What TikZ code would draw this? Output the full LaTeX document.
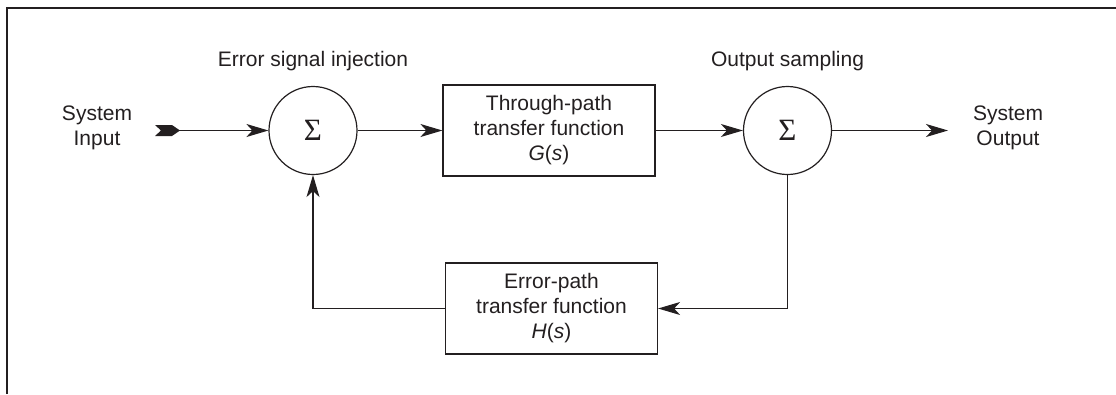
\documentclass[tikz,border=0pt]{standalone}
\usepackage{fontspec}
\setmainfont{Liberation Sans}
\newfontfamily\sigmafont{Liberation Serif}
\usetikzlibrary{arrows.meta}
\definecolor{ink}{HTML}{231F20}
\tikzset{
  every node/.style={text=ink},
  txt/.style={font=\fontsize{21}{25}\selectfont, align=center, inner sep=0pt},
  sumnode/.style={circle, draw=ink, line width=1.2pt, minimum size=88pt, inner sep=0pt,
                  font=\sigmafont\fontsize{31}{31}\selectfont},
  block/.style={draw=ink, line width=1.2pt, minimum width=212pt, minimum height=91pt,
                inner sep=0pt, font=\fontsize{21}{25}\selectfont, align=center},
  wire/.style={draw=ink, line width=1.2pt},
  arr/.style={wire, -{Stealth[length=22pt, width=13pt, inset=6pt]}},
}
\begin{document}
\begin{tikzpicture}[x=1pt, y=-1pt]
  \useasboundingbox (0,0) rectangle (1116,394);
  % frame edges
  \draw[ink, line width=1.3pt] (7,394) -- (7,8) -- (1116,8);

  % summing junctions
  \node[sumnode] (s1) at (313,130.5) {Σ};
  \node[sumnode] (s2) at (787.5,130.5) {Σ};

  % transfer function blocks
  \node[block] (g) at (549,130.5) {Through-path\\transfer function\\\textit{G}(\textit{s})};
  \node[block] (h) at (551.5,308.5) {Error-path\\transfer function\\\textit{H}(\textit{s})};

  % labels
  \node[txt, anchor=base] (linj) at (313,66) {Error signal injection};
  \node[txt, anchor=base] (lsmp) at (787.5,66) {Output sampling};
  \node[txt] (lin) at (97,128) {System\\Input};
  \node[txt] (lout) at (1008,128) {System\\Output};

  % input tail marker
  \coordinate (tail) at (176,130.5);
  \coordinate (outend) at (948,130.5);
  \fill[ink] (155,125) -- (172,125) -- (180,130.5) -- (172,136) -- (155,136) -- (161,130.5) -- cycle;

  % signal flow
  \draw[arr] (tail) -- (s1.west);
  \draw[arr] (s1.east) -- (g.west);
  \draw[arr] (g.east) -- (s2.west);
  \draw[arr] (s2.east) -- (outend);
  \draw[arr] (s2.south) |- (h.east);
  \draw[arr] (h.west) -| (s1.south);
\end{tikzpicture}
\end{document}
